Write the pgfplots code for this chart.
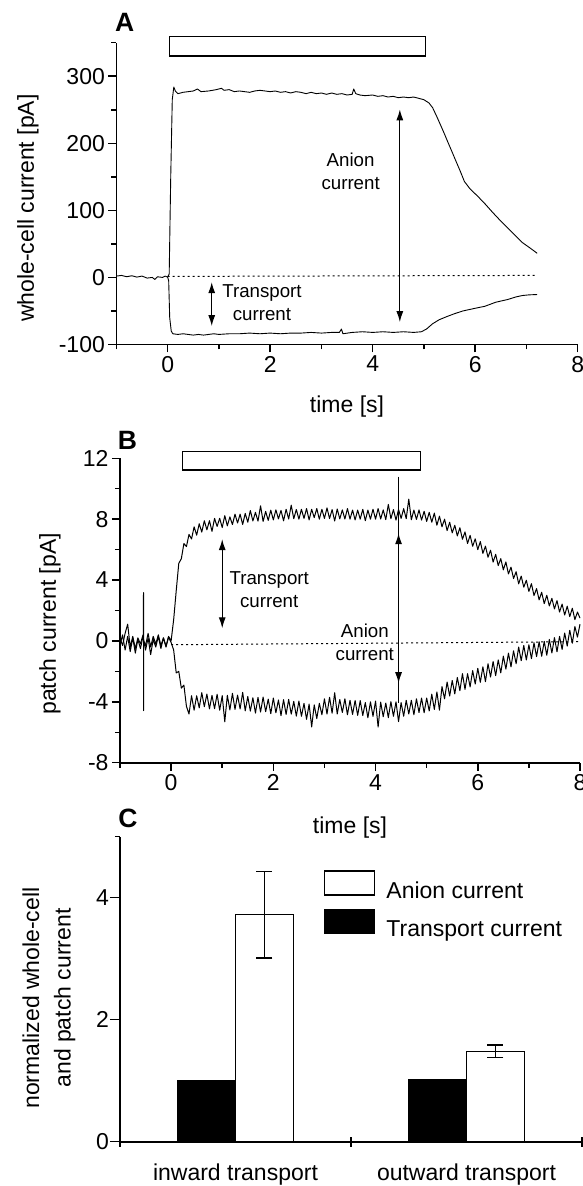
\documentclass[border=0pt]{standalone}
\usepackage{fontspec}
\setmainfont{Liberation Sans}
\usepackage{pgfplots}
\pgfplotsset{compat=1.18}
\usetikzlibrary{arrows.meta}

\newcommand{\fa}{\fontsize{23}{27}\selectfont}
\newcommand{\fb}{\fontsize{18.7}{23}\selectfont}

\pgfplotsset{
  panel/.style={
    scale only axis,
    axis x line*=bottom, axis y line*=left,
    axis line style={line width=1.8pt},
    tick align=outside,
    tick style={black, line width=1.5pt},
    major tick length=8pt, minor tick length=5pt,
    tick label style={font=\fa},
    label style={font=\fa},
    /pgf/number format/assume math mode=true,
    clip=false,
  },
  trace/.style={black, line width=0.9pt, line join=round},
  noisy/.style={black, line width=1pt, line join=round},
}
\tikzset{dbl/.style={line width=1.2pt, {Latex[length=11pt,width=7pt]}-{Latex[length=11pt,width=7pt]}}}

\begin{document}
\begin{tikzpicture}
\useasboundingbox (0,0) rectangle (583pt,1186pt);

% panel letters
\node[font=\bfseries\fontsize{26.5}{30}\selectfont] at (124.6pt,1163.5pt) {A};
\node[font=\bfseries\fontsize{26.5}{30}\selectfont] at (127.4pt,745.2pt) {B};
\node[font=\bfseries\fontsize{26.5}{30}\selectfont] at (128pt,368pt) {C};

% ---------------- A: whole-cell
\begin{axis}[panel,
  at={(116.4pt,841.5pt)}, anchor=south west,
  width=461.3pt, height=301.8pt,
  xmin=-1, xmax=8, ymin=-100, ymax=350,
  xtick={0,2,4,6,8}, minor xtick={-1,1,3,5,7},
  ytick={-100,0,100,200,300}, yticklabels={-100,0,100,200,300},
  minor ytick={-50,50,150,250,350},
  xlabel={time [s]},
  xlabel style={at={(axis description cs:0.5,-0.2237)}, anchor=base},
  ylabel={whole-cell current [pA]},
  ylabel style={at={(axis description cs:-0.1916,0.452)}, anchor=center},
]
\addplot[trace] coordinates {
(-1,2) (-0.9,3) (-0.8,1) (-0.7,2.5) (-0.6,0.5) (-0.5,2) (-0.4,-1) (-0.3,0)
(-0.25,-3) (-0.2,1) (-0.1,0) (-0.05,2) (0,0.5) (0.03,5) (0.06,150) (0.09,265)
(0.12,284) (0.15,278) (0.2,274) (0.3,276) (0.4,277) (0.5,278) (0.58,281)
(0.65,277) (0.8,278) (0.95,280) (1.05,282) (1.1,279) (1.2,280) (1.3,277)
(1.4,278) (1.5,277) (1.6,276) (1.7,278) (1.8,279) (1.9,278) (2,277) (2.1,278)
(2.2,276) (2.3,277) (2.4,275) (2.5,277) (2.6,276) (2.7,274) (2.8,276) (2.9,274)
(3,275) (3.1,273) (3.2,275) (3.3,273) (3.4,274) (3.5,272) (3.6,273) (3.63,281)
(3.67,274) (3.75,272) (3.85,271) (4,272) (4.1,270) (4.2,271) (4.3,269) (4.4,270)
(4.5,268) (4.6,269) (4.7,268) (4.8,269) (4.9,267) (5,265) (5.1,260) (5.17,253)
(5.25,240) (5.32,228) (5.4,214) (5.46,203) (5.55,187) (5.61,176) (5.7,160)
(5.79,143) (5.9,132) (6.05,121) (6.2,109) (6.34,97) (6.5,84) (6.63,74) (6.8,61)
(6.92,52) (7.05,45) (7.21,36)};
\addplot[trace] coordinates {
(0,0.5) (0.02,-5) (0.04,-60) (0.07,-80) (0.1,-84) (0.2,-85) (0.3,-84) (0.4,-85)
(0.5,-86) (0.6,-85) (0.7,-86) (0.8,-85) (0.9,-84) (1,-85) (1.2,-84) (1.4,-84)
(1.6,-83) (1.8,-84) (2,-83) (2.2,-84) (2.4,-83) (2.6,-83) (2.8,-82) (3,-83)
(3.2,-82) (3.35,-82) (3.39,-77) (3.42,-84) (3.6,-82) (3.8,-81) (4,-82) (4.2,-81)
(4.4,-82) (4.6,-81) (4.8,-82) (4.95,-81) (5.05,-77) (5.17,-69) (5.3,-63)
(5.46,-58) (5.6,-54) (5.76,-50) (6,-46) (6.19,-43) (6.4,-37) (6.63,-33)
(6.8,-29) (6.92,-27) (7.05,-26) (7.21,-25.5)};
\addplot[black, line width=1pt, dash pattern=on 2pt off 3pt] coordinates {(0,1.5) (7.2,3)};
\draw[line width=1.3pt] (axis cs:0.03,330) rectangle (axis cs:5.03,359);
\draw[dbl] (axis cs:4.53,250.7) -- (axis cs:4.53,-66.7);
\draw[dbl] (axis cs:0.86,-7) -- (axis cs:0.86,-72.6);
\node[font=\fb, align=center] at (axis cs:3.57,158.5) {Anion\\current};
\node[font=\fb, align=center] at (axis cs:1.84,-38.2) {Transport\\current};
\end{axis}

% ---------------- B: patch
\begin{axis}[panel,
  at={(120pt,423.3pt)}, anchor=south west,
  width=460pt, height=304.4pt,
  xmin=-1, xmax=8, ymin=-8, ymax=12,
  xtick={0,2,4,6,8}, minor xtick={-1,1,3,5,7},
  ytick={-8,-4,0,4,8,12}, yticklabels={-8,-4,0,4,8,12},
  minor ytick={-6,-2,2,6,10},
  xlabel={time [s]},
  xlabel style={at={(axis description cs:0.5,-0.231)}, anchor=base},
  ylabel={patch current [pA]},
  ylabel style={at={(axis description cs:-0.1522,0.456)}, anchor=center},
]
\addplot[noisy] coordinates {
(-1,0.2) (-0.95,-0.3) (-0.9,0.5) (-0.85,1.1) (-0.8,-0.4) (-0.75,0.3) (-0.7,-0.5) (-0.65,0.2) (-0.6,-0.2) (-0.55,0.4) (-0.545,0.1) (-0.54,3.17) (-0.54,-4.58) (-0.535,0) (-0.5,-0.3) (-0.45,0.5) (-0.4,-0.4) (-0.35,0.3) (-0.3,-0.2) (-0.25,0.4) (-0.2,-0.3) (-0.15,0.2) (-0.1,-0.35) (-0.05,0.3) (0,0) (0.05,1.4) (0.1,3.3) (0.15,5.1) (0.2,5.4) (0.25,6.4) (0.3,6.2) (0.35,7.0) (0.4,6.7) (0.45,7.5) (0.5,6.95) (0.55,7.7) (0.6,7.15) (0.65,7.9) (0.7,7.3) (0.75,7.9) (0.8,7.2) (0.85,8.05) (0.9,7.52) (0.95,8.06) (1,7.45) (1.05,8.23) (1.1,7.56) (1.15,8.15) (1.2,7.65) (1.25,8.33) (1.3,7.75) (1.35,8.33) (1.4,7.65) (1.45,8.38) (1.5,7.8) (1.55,8.57) (1.6,7.88) (1.65,8.45) (1.7,7.87) (1.75,8.88) (1.8,7.85) (1.85,8.51) (1.9,7.92) (1.95,8.59) (2,7.95) (2.05,8.61) (2.1,8.02) (2.15,8.58) (2.2,7.89) (2.25,8.65) (2.3,8.01) (2.35,8.92) (2.4,8.03) (2.45,8.64) (2.5,8.0) (2.55,8.65) (2.6,8.05) (2.65,8.7) (2.7,7.95) (2.75,8.65) (2.8,8.1) (2.85,8.7) (2.9,8.0) (2.95,8.65) (3,8.05) (3.05,8.74) (3.1,8.04) (3.15,8.63) (3.2,7.88) (3.25,8.67) (3.3,8.02) (3.35,8.61) (3.4,8.01) (3.45,8.7) (3.5,8.0) (3.55,8.6) (3.6,7.95) (3.65,8.6) (3.7,8.0) (3.75,8.65) (3.8,7.9) (3.85,8.6) (3.9,8.0) (3.95,8.65) (4,8.0) (4.05,8.7) (4.1,8.01) (4.15,8.61) (4.2,7.97) (4.25,8.97) (4.3,8.03) (4.35,8.63) (4.4,7.94) (4.45,8.64) (4.5,8.05) (4.55,8.69) (4.6,8.03) (4.65,9.32) (4.7,7.96) (4.75,8.6) (4.8,7.98) (4.85,8.61) (4.9,7.94) (4.95,8.52) (5,7.85) (5.05,8.45) (5.1,7.8) (5.15,8.4) (5.2,7.6) (5.25,8.2) (5.3,7.5) (5.35,8.0) (5.4,7.25) (5.45,7.8) (5.5,7.1) (5.55,7.6) (5.6,6.9) (5.65,7.44) (5.7,6.68) (5.75,7.16) (5.8,6.4) (5.85,6.94) (5.9,6.22) (5.95,6.71) (6,6.0) (6.05,6.53) (6.1,5.75) (6.15,6.23) (6.2,5.5) (6.25,5.96) (6.3,5.18) (6.35,5.69) (6.4,4.95) (6.45,5.41) (6.5,4.67) (6.55,5.19) (6.6,4.4) (6.65,4.85) (6.7,4.1) (6.75,4.55) (6.8,3.75) (6.85,4.26) (6.9,3.53) (6.95,3.99) (7,3.25) (7.05,3.76) (7.1,2.98) (7.15,3.44) (7.2,2.7) (7.25,3.2) (7.3,2.45) (7.35,3.0) (7.4,2.3) (7.45,2.8) (7.5,2.1) (7.55,2.65) (7.6,1.9) (7.65,2.42) (7.7,1.7) (7.75,2.28) (7.8,1.6) (7.85,2.15) (7.9,1.4) (7.95,1.9) (8,1.5)};
\addplot[noisy] coordinates {
(-1,-0.3) (-0.95,0.4) (-0.9,-0.6) (-0.85,0.3) (-0.8,-0.7) (-0.75,0.2) (-0.7,-0.8) (-0.65,0.1) (-0.6,-0.5) (-0.55,0.3) (-0.5,-0.6) (-0.45,0.2) (-0.4,-0.9) (-0.35,0.1) (-0.3,-0.4) (-0.25,0.3) (-0.2,-0.5) (-0.15,0.2) (-0.1,-0.4) (-0.05,0.25) (0,-0.1) (0.05,-0.6) (0.1,-2.1) (0.15,-2.0) (0.2,-3.1) (0.25,-2.9) (0.3,-4.3) (0.35,-4.8) (0.4,-3.6) (0.45,-4.55) (0.5,-3.6) (0.55,-4.4) (0.6,-3.4) (0.65,-4.32) (0.7,-3.49) (0.75,-4.46) (0.8,-3.58) (0.85,-4.45) (0.9,-3.5) (0.95,-4.55) (1,-3.6) (1.05,-5.31) (1.1,-3.57) (1.15,-4.53) (1.2,-3.44) (1.25,-4.5) (1.3,-3.56) (1.35,-4.47) (1.4,-3.38) (1.45,-4.59) (1.5,-3.65) (1.55,-4.61) (1.6,-3.73) (1.65,-4.74) (1.7,-3.71) (1.75,-4.67) (1.8,-3.69) (1.85,-4.65) (1.9,-3.82) (1.95,-4.78) (2,-3.75) (2.05,-4.72) (2.1,-3.88) (2.15,-4.9) (2.2,-3.86) (2.25,-4.83) (2.3,-3.84) (2.35,-4.81) (2.4,-3.97) (2.45,-4.94) (2.5,-3.95) (2.55,-4.95) (2.6,-4.1) (2.65,-5.15) (2.7,-4.15) (2.75,-5.65) (2.8,-4.2) (2.85,-5.1) (2.9,-4.1) (2.95,-4.85) (3,-3.8) (3.05,-4.8) (3.1,-3.7) (3.15,-4.75) (3.2,-3.4) (3.25,-4.8) (3.3,-3.85) (3.35,-4.7) (3.4,-3.8) (3.45,-4.85) (3.5,-3.9) (3.55,-4.83) (3.6,-3.91) (3.65,-4.89) (3.7,-3.92) (3.75,-4.9) (3.8,-4.05) (3.85,-5.05) (3.9,-4.0) (3.95,-4.95) (4,-3.95) (4.05,-5.66) (4.1,-4.02) (4.15,-4.98) (4.2,-4.08) (4.25,-5.04) (4.3,-3.99) (4.35,-4.95) (4.4,-4.0) (4.45,-5.3) (4.5,-4.05) (4.55,-4.95) (4.6,-3.9) (4.65,-4.8) (4.7,-3.9) (4.75,-4.85) (4.8,-3.8) (4.85,-4.7) (4.9,-3.75) (4.95,-4.72) (5,-3.75) (5.05,-4.6) (5.1,-3.5) (5.15,-4.5) (5.2,-3.35) (5.25,-4.55) (5.3,-3.0) (5.35,-3.8) (5.4,-2.7) (5.45,-3.62) (5.5,-2.6) (5.55,-3.48) (5.6,-2.4) (5.65,-3.27) (5.7,-2.15) (5.75,-3.18) (5.8,-2.15) (5.85,-3.02) (5.9,-1.95) (5.95,-2.83) (6,-1.8) (6.05,-2.72) (6.1,-1.7) (6.15,-2.68) (6.2,-1.5) (6.25,-2.37) (6.3,-1.35) (6.35,-2.28) (6.4,-1.25) (6.45,-2.1) (6.5,-1.0) (6.55,-1.85) (6.6,-0.8) (6.65,-1.7) (6.7,-0.65) (6.75,-1.5) (6.8,-0.4) (6.85,-1.3) (6.9,-0.3) (6.95,-1.25) (7,-0.25) (7.05,-1.16) (7.1,-0.12) (7.15,-1.03) (7.2,-0.05) (7.25,-1.01) (7.3,-0.03) (7.35,-0.94) (7.4,0.1) (7.45,-0.79) (7.5,0.22) (7.55,-0.71) (7.6,0.3) (7.65,-0.56) (7.7,0.52) (7.75,-0.34) (7.8,0.7) (7.85,-0.15) (7.9,0.95) (7.95,0.25) (8,1.1)};
\addplot[black, line width=1pt, dash pattern=on 2pt off 3pt] coordinates {(0,-0.25) (8,-0.05)};
\draw[line width=1.3pt] (axis cs:0.217,11.24) rectangle (axis cs:4.88,12.44);
\draw[line width=0.8pt] (axis cs:4.45,10.8) -- (axis cs:4.45,-4.1);
\draw[dbl] (axis cs:4.45,7.08) -- (axis cs:4.45,-2.78);
\draw[dbl] (axis cs:1.0,6.69) -- (axis cs:1.0,0.83);
\node[font=\fb, align=center] at (axis cs:1.92,3.35) {Transport\\current};
\node[font=\fb, align=center] at (axis cs:3.79,-0.07) {Anion\\current};
\end{axis}

% ---------------- C: bars
\begin{axis}[panel,
  at={(120pt,44.3pt)}, anchor=south west,
  width=462pt, height=305pt,
  xmin=0, xmax=2, ymin=0, ymax=5,
  xtick={0,1,2}, xticklabels={,,}, xtick align=center,
  major tick length=10pt,
  extra x ticks={0.5,1.5},
  extra x tick labels={inward transport,outward transport},
  extra x tick style={major tick length=0pt,
    xticklabel style={anchor=base, yshift=-38.3pt}},
  ytick={0,2,4}, minor ytick={5},
  yticklabel style={inner sep=1pt},
  ylabel={normalized whole-cell\\and patch current},
  ylabel style={align=center, font=\fontsize{23}{31.5}\selectfont,
    at={(axis description cs:-0.1537,0.471)}, anchor=center},
  legend style={at={(axis cs:0.883,4.454)}, anchor=north west,
    draw=none, fill=none, inner sep=0pt, row sep=7pt, font=\fa},
  legend cell align=left,
]
\addplot[ybar, bar width=0.25, bar shift=0pt, fill=white, draw=black, line width=1.3pt,
  legend image code/.code={\draw[fill=white, line width=1.3pt] (0pt,-4pt) rectangle (50pt,20pt); \path (59pt,0pt);},
  error bars/.cd, y dir=both, y explicit,
  error bar style={line width=1.3pt},
  error mark options={rotate=90, mark size=8pt, line width=1.3pt}]
  coordinates {(0.625,3.72) +- (0,0.71) (1.625,1.48) +- (0,0.105)};
\addlegendentry{Anion current}
\addplot[ybar, bar width=0.25, bar shift=0pt, fill=black, draw=black, line width=1.3pt,
  legend image code/.code={\draw[fill=black, line width=1.3pt] (0pt,-4pt) rectangle (50pt,20pt); \path (59pt,0pt);}]
  coordinates {(0.375,1.0) (1.375,1.02)};
\addlegendentry{Transport current}
\end{axis}
\end{tikzpicture}
\end{document}
